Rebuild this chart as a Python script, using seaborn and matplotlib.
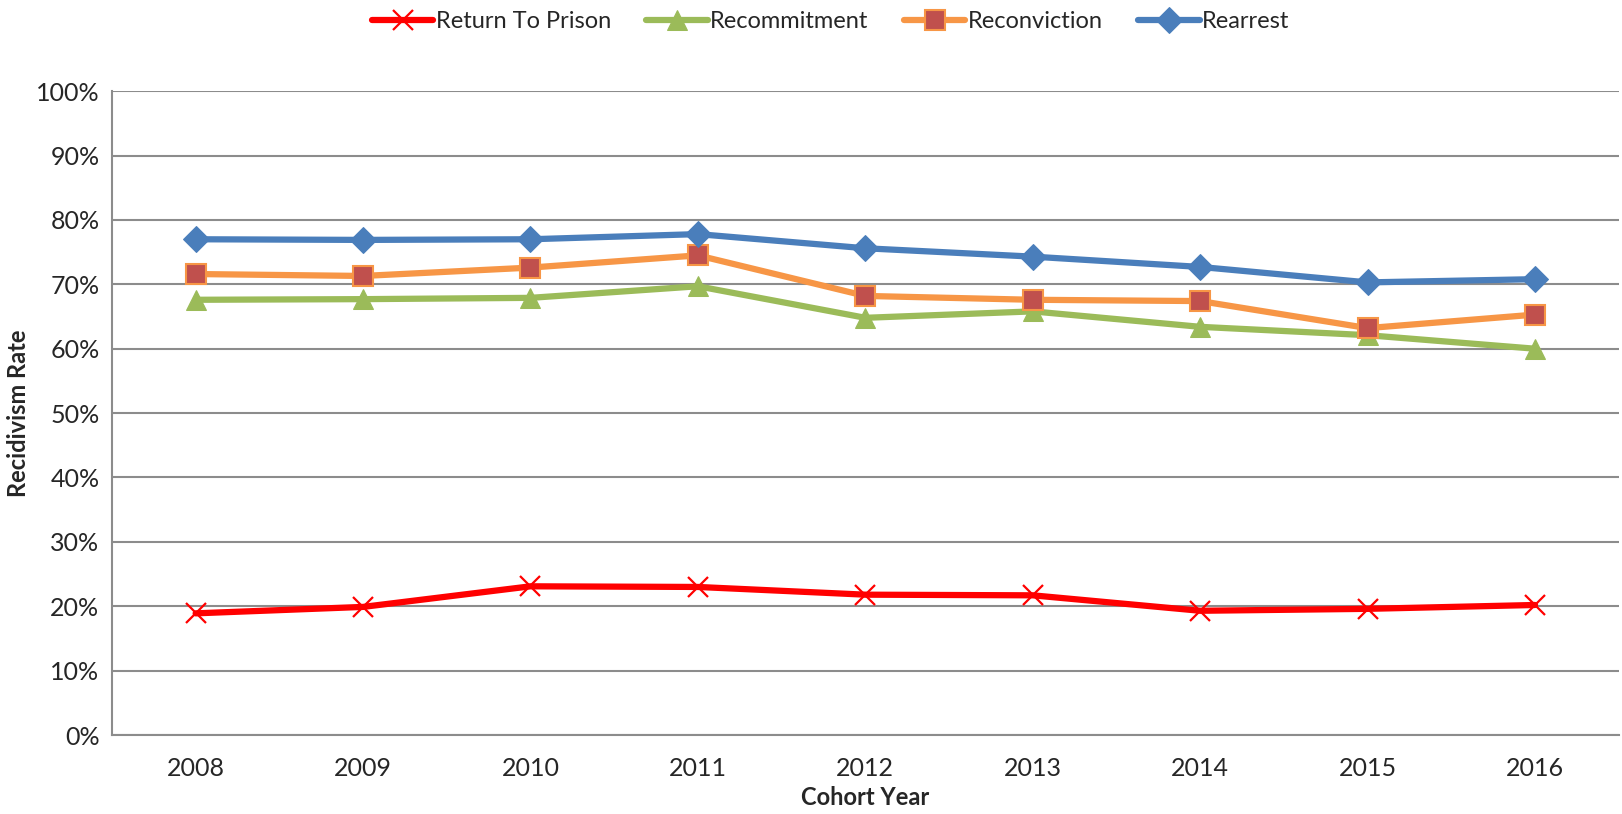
import numpy as np
import pandas as pd
import matplotlib
matplotlib.use("Agg")
import matplotlib.pyplot as plt
import seaborn as sns

years = [2008, 2009, 2010, 2011, 2012, 2013, 2014, 2015, 2016]
return_to_prison = [18.9, 19.9, 23.1, 23.0, 21.8, 21.7, 19.3, 19.6, 20.2]
recommitment = [67.6, 67.7, 67.9, 69.7, 64.8, 65.8, 63.4, 62.1, 60.0]
reconviction = [71.6, 71.3, 72.6, 74.5, 68.2, 67.6, 67.4, 63.2, 65.3]
rearrest = [77.0, 76.9, 77.0, 77.8, 75.6, 74.3, 72.7, 70.3, 70.8]

sns.set_style("white")
plt.rcParams['font.family'] = ['Lato', 'DejaVu Sans']

pos = np.arange(len(years)) + 0.5

fig, ax = plt.subplots(figsize=(16.22, 8.14), dpi=100)
fig.subplots_adjust(left=0.069, right=0.998, top=0.888, bottom=0.097)

series = [
    ("Return To Prison", return_to_prison, dict(color="#FF0000", marker="x", markersize=15,
                                                markeredgewidth=1.6, markeredgecolor="#FF0000")),
    ("Recommitment", recommitment, dict(color="#9BBB59", marker="^", markersize=15,
                                        markerfacecolor="#9BBB59", markeredgecolor="#9BBB59")),
    ("Reconviction", reconviction, dict(color="#F79646", marker="s", markersize=15,
                                        markerfacecolor="#C0504D", markeredgecolor="#F79646",
                                        markeredgewidth=1.5)),
    ("Rearrest", rearrest, dict(color="#4A7EBB", marker="D", markersize=13,
                                markerfacecolor="#4A7EBB", markeredgecolor="#4A7EBB")),
]

for name, vals, style in series:
    sns.lineplot(x=pos, y=np.array(vals) / 100, ax=ax, linewidth=4.5, label=name, **style)

ax.set_xlim(0, 9)
ax.set_ylim(0, 1)
ax.set_yticks(np.arange(0, 1.01, 0.1))
ax.set_yticklabels([f"{int(round(v * 100))}%" for v in np.arange(0, 1.01, 0.1)], fontsize=18)
ax.yaxis.grid(True, color="#8C8C8C", linewidth=1.5)
ax.xaxis.grid(False)

ax.set_xticks(np.arange(0, 10))
ax.set_xticklabels([])
ax.set_xticks(pos, minor=True)
ax.set_xticklabels([str(y) for y in years], minor=True, fontsize=18)
ax.tick_params(axis="x", which="major", direction="out", length=7, color="#8C8C8C", width=1.2)
ax.tick_params(axis="x", which="minor", length=0, pad=16)
ax.tick_params(axis="y", direction="out", length=5, color="#8C8C8C", width=1.2, pad=4)

for s in ["top", "right"]:
    ax.spines[s].set_visible(False)
for s in ["left", "bottom"]:
    ax.spines[s].set_color("#8C8C8C")
    ax.spines[s].set_linewidth(1.5)

ax.set_xlabel("Cohort Year", fontsize=17, fontweight="bold", labelpad=4)
ax.set_ylabel("Recidivism Rate", fontsize=17, fontweight="bold", labelpad=4)

ax.legend(loc="upper center", bbox_to_anchor=(0.477, 1.157), ncol=4, frameon=False,
          fontsize=17, handlelength=2.6, handletextpad=0.1, columnspacing=1.5)

fig.savefig("out.png", dpi=100)
plt.close()
